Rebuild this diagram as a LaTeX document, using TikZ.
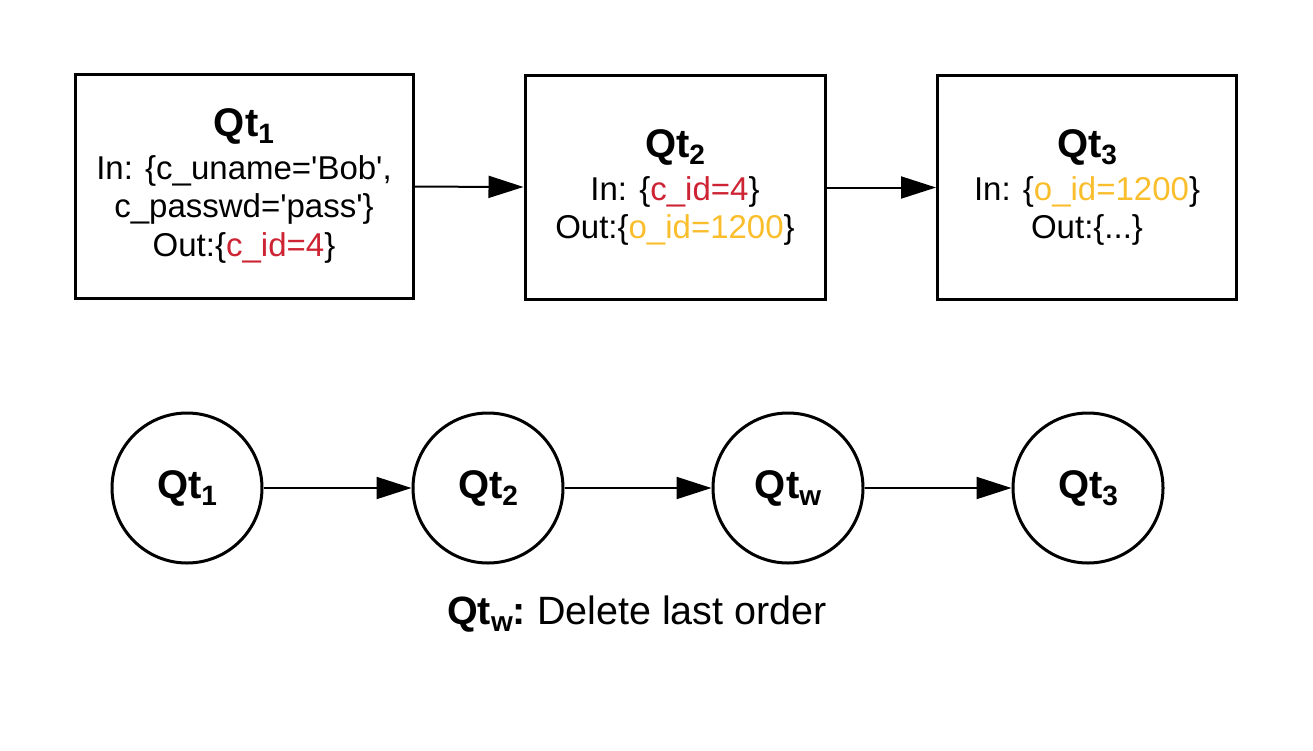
\documentclass[tikz,border=0pt]{standalone}
\usepackage{fontspec}
\setmainfont{Liberation Sans}
\usetikzlibrary{arrows.meta}
\definecolor{idred}{RGB}{205,35,50}
\definecolor{idyel}{RGB}{250,190,45}
\newcommand\qsub[1]{\raisebox{-7pt}{\fontsize{28}{28}\selectfont #1}}
\newcommand\qtitle[1]{{\bfseries\fontsize{40}{40}\selectfont Qt\qsub{#1}}}
\newcommand\sq{\textquotesingle}
\tikzset{
  qbox/.style={draw, line width=3pt, rectangle, minimum height=224pt, inner sep=0pt,
    align=center, font=\fontsize{33}{38.5}\selectfont},
  qcirc/.style={draw, circle, line width=3pt, minimum size=150pt, inner sep=0pt,
    font=\bfseries\fontsize{40}{40}\selectfont},
  flow/.style={line width=2pt, -{Triangle[length=35pt,width=22pt]}},
  caption/.style={anchor=base, font=\fontsize{39.5}{44}\selectfont},
}
\begin{document}
\begin{tikzpicture}[x=1pt, y=-1pt]
\useasboundingbox (0,0) rectangle (1313,750);
% top row
\node[qbox, minimum width=338pt] (b1) at (244,186)
  {\qtitle{1}\\[4pt]
   In: \{c\_uname=\sq Bob\sq,\\
   c\_passwd=\sq pass\sq\}\\
   Out:\{\textcolor{idred}{c\_id=4}\}};
\node[qbox, minimum width=300pt] (b2) at (675,187.5)
  {\qtitle{2}\\[4pt]
   In: \{\textcolor{idred}{c\_id=4}\}\\
   Out:\{\textcolor{idyel}{o\_id=1200}\}};
\node[qbox, minimum width=299pt] (b3) at (1087,187.5)
  {\qtitle{3}\\[4pt]
   In: \{\textcolor{idyel}{o\_id=1200}\}\\
   Out:\{...\}};
\draw[flow] (b1) -- (b2);
\draw[flow] (b2) -- (b3);
% bottom row
\node[qcirc] (c1) at (187,488) {Qt\qsub{1}};
\node[qcirc] (c2) at (488,488) {Qt\qsub{2}};
\node[qcirc] (cw) at (788,488) {Qt\qsub{w}};
\node[qcirc] (c3) at (1088,488) {Qt\qsub{3}};
\draw[flow] (c1) -- (c2);
\draw[flow] (c2) -- (cw);
\draw[flow] (cw) -- (c3);
% caption
\node[caption] (cap) at (637,624)
  {\textbf{Qt\qsub{w}:}\hspace{11pt}Delete last order};
\end{tikzpicture}
\end{document}
